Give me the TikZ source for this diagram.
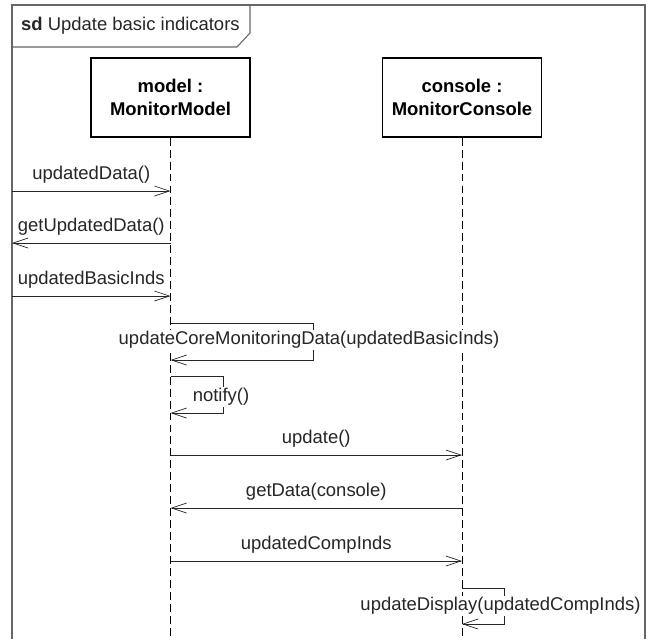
\documentclass[tikz,border=0pt]{standalone}
\usepackage{fontspec}
\setmainfont{Liberation Sans}
\usetikzlibrary{arrows.meta}

\begin{document}
\begin{tikzpicture}[>={Straight Barb[length=3mm,width=2mm]},font=\fontsize{10.5}{12.5}\selectfont,
  obj/.style={draw,line width=0.8pt,minimum width=3.18cm,minimum height=1.58cm,align=center,font=\fontsize{10.5}{13}\selectfont\bfseries},
  life/.style={dash pattern=on 4.5pt off 2.3pt},
  msg/.style={->,black!85},
  lbl/.style={fill=white,inner sep=1pt,text=black!85}]
\useasboundingbox (0,0) rectangle (13,-12.78);
% frame
\draw[black!60,line width=0.85pt] (0.24,-12.78) -- (0.24,-0.10) -- (12.9,-0.10) -- (12.9,-12.78);
\draw[black!60,line width=0.6pt] (0.24,-0.94) -- (4.74,-0.94) -- (5.0,-0.66) -- (5.0,-0.10);
\node[anchor=west,text=black!85] (title) at (0.3,-0.52) {\textbf{sd} Update basic indicators};
% lifelines
\node[obj] (model) at (3.41,-1.95) {model :\\MonitorModel};
\node[obj] (console) at (9.24,-1.95) {console :\\MonitorConsole};
\coordinate (endm) at (3.41,-12.78);
\coordinate (endc) at (9.24,-12.78);
\draw[life] (model.south) -- (endm);
\draw[life] (console.south) -- (endc);
% gates on the frame
\coordinate (g1) at (0.24,-3.82);
\coordinate (g2) at (0.24,-4.86);
\coordinate (g3) at (0.24,-5.92);
\draw[msg] (g1) -- (model |- g1) node[midway,above=3pt,lbl] (l1) {updatedData()};
\draw[msg] (model |- g2) -- (g2) node[midway,above=3pt,lbl] (l2) {getUpdatedData()};
\draw[msg] (g3) -- (model |- g3) node[midway,above=3pt,lbl] (l3) {updatedBasicInds};
% self calls
\coordinate (s1a) at (6.26,-6.46);
\coordinate (s1b) at (6.26,-7.20);
\draw[msg] (model |- s1a) -- (s1a) -- (s1b) -- (model |- s1b);
\node[lbl] (l4) at (6.18,-6.80) {updateCoreMonitoringData(updatedBasicInds)};
\coordinate (s2a) at (4.46,-7.52);
\coordinate (s2b) at (4.46,-8.26);
\draw[msg] (model |- s2a) -- (s2a) -- (s2b) -- (model |- s2b);
\node[lbl] (l5) at (4.42,-7.94) {notify()};
% model <-> console
\coordinate (m1) at (0,-9.10);
\coordinate (m2) at (0,-10.16);
\coordinate (m3) at (0,-11.22);
\draw[msg] (model |- m1) -- (console |- m1) node[midway,above=3pt,lbl] (l6) {update()};
\draw[msg] (console |- m2) -- (model |- m2) node[midway,above=3pt,lbl] (l7) {getData(console)};
\draw[msg] (model |- m3) -- (console |- m3) node[midway,above=3pt,lbl] (l8) {updatedCompInds};
\coordinate (s3a) at (10.08,-11.76);
\coordinate (s3b) at (10.08,-12.48);
\draw[msg] (console |- s3a) -- (s3a) -- (s3b) -- (console |- s3b);
\node[lbl] (l9) at (10.01,-12.12) {updateDisplay(updatedCompInds)};
\end{tikzpicture}
\end{document}
